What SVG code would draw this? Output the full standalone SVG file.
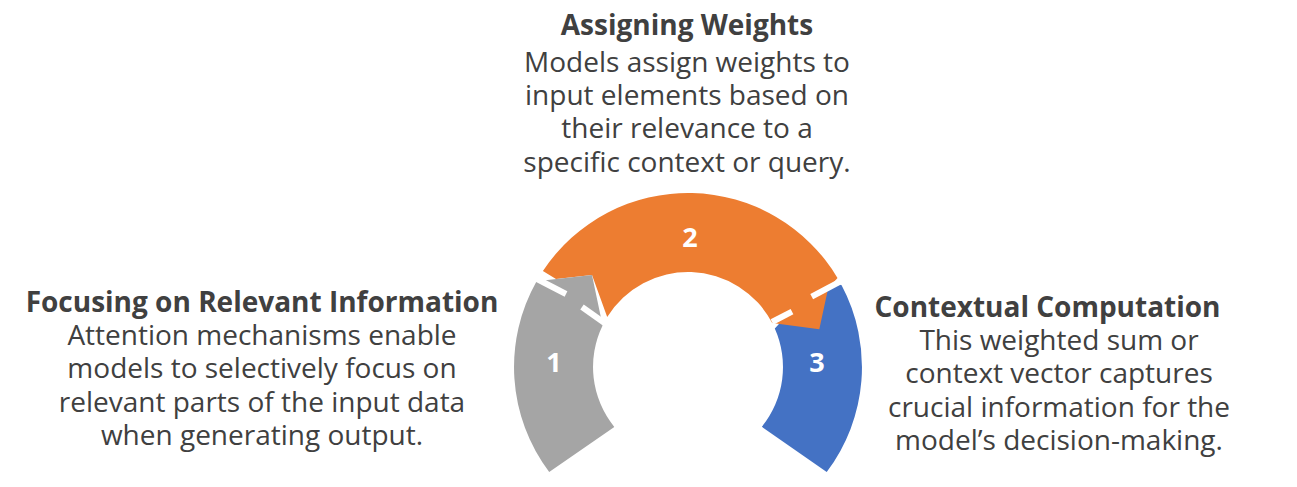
<svg xmlns="http://www.w3.org/2000/svg" width="1297" height="487" viewBox="0 0 1297 487">
  <style>
    .t { font-family: "Open Sans", "Liberation Sans", sans-serif; font-size: 28px; fill: #404040; text-anchor: middle; }
    .h { font-weight: bold; }
    .n { font-family: "Open Sans", "Liberation Sans", sans-serif; font-size: 27px; font-weight: bold; fill: #ffffff; text-anchor: middle; }
    .gap { stroke: #ffffff; stroke-width: 6; fill: none; }
  </style>
  <rect width="1297" height="487" fill="#ffffff"/>
  <g id="step3">
    <path d="M841.6,285.3 L830,280 L790,312 L774.8,328.4 A95,95 0 0 1 761.8,426.8 L826.7,472 A174,174 0 0 0 841.6,285.3 Z" fill="#4472C4"/>
    <text class="n" x="817" y="371.5">3</text>
  </g>
  <g id="step2">
    <path d="M542.9,271 A174,174 0 0 1 837.5,277.9 L828,289 L819.3,329.3 L772.2,323 A95,95 0 0 0 607.2,317 L592,275 L556,279 Z" fill="#ED7D31"/>
    <text class="n" x="690" y="247">2</text>
  </g>
  <g id="step1">
    <path d="M549.2,471.9 A174,174 0 0 1 536.6,281.3 L592,275 L602.6,325.4 A95,95 0 0 0 614.3,426.9 Z" fill="#A5A5A5"/>
    <text class="n" x="554" y="371.5">1</text>
  </g>
  <g id="connectors">
    <line class="gap" x1="537" y1="279" x2="566" y2="294"/>
    <line class="gap" x1="582" y1="307" x2="606" y2="324"/>
    <line class="gap" x1="840" y1="281.7" x2="811.7" y2="296.7"/>
    <line class="gap" x1="792" y1="311.7" x2="772" y2="322"/>
  </g>
  <g id="label1">
    <text class="t h" x="262" y="311.7">Focusing on Relevant Information</text>
    <text class="t" x="262" y="345">Attention mechanisms enable</text>
    <text class="t" x="262" y="378.3">models to selectively focus on</text>
    <text class="t" x="262" y="411.7">relevant parts of the input data</text>
    <text class="t" x="262" y="445">when generating output.</text>
  </g>
  <g id="label2">
    <text class="t h" x="687" y="35">Assigning Weights</text>
    <text class="t" x="687" y="71.7">Models assign weights to</text>
    <text class="t" x="687" y="105">input elements based on</text>
    <text class="t" x="687" y="138.3">their relevance to a</text>
    <text class="t" x="687" y="171.7">specific context or query.</text>
  </g>
  <g id="label3">
    <text class="t h" x="1047.5" y="316.7">Contextual Computation</text>
    <text class="t" x="1059" y="350">This weighted sum or</text>
    <text class="t" x="1059" y="383.3">context vector captures</text>
    <text class="t" x="1059" y="416.7">crucial information for the</text>
    <text class="t" x="1059" y="450">model’s decision-making.</text>
  </g>
</svg>
